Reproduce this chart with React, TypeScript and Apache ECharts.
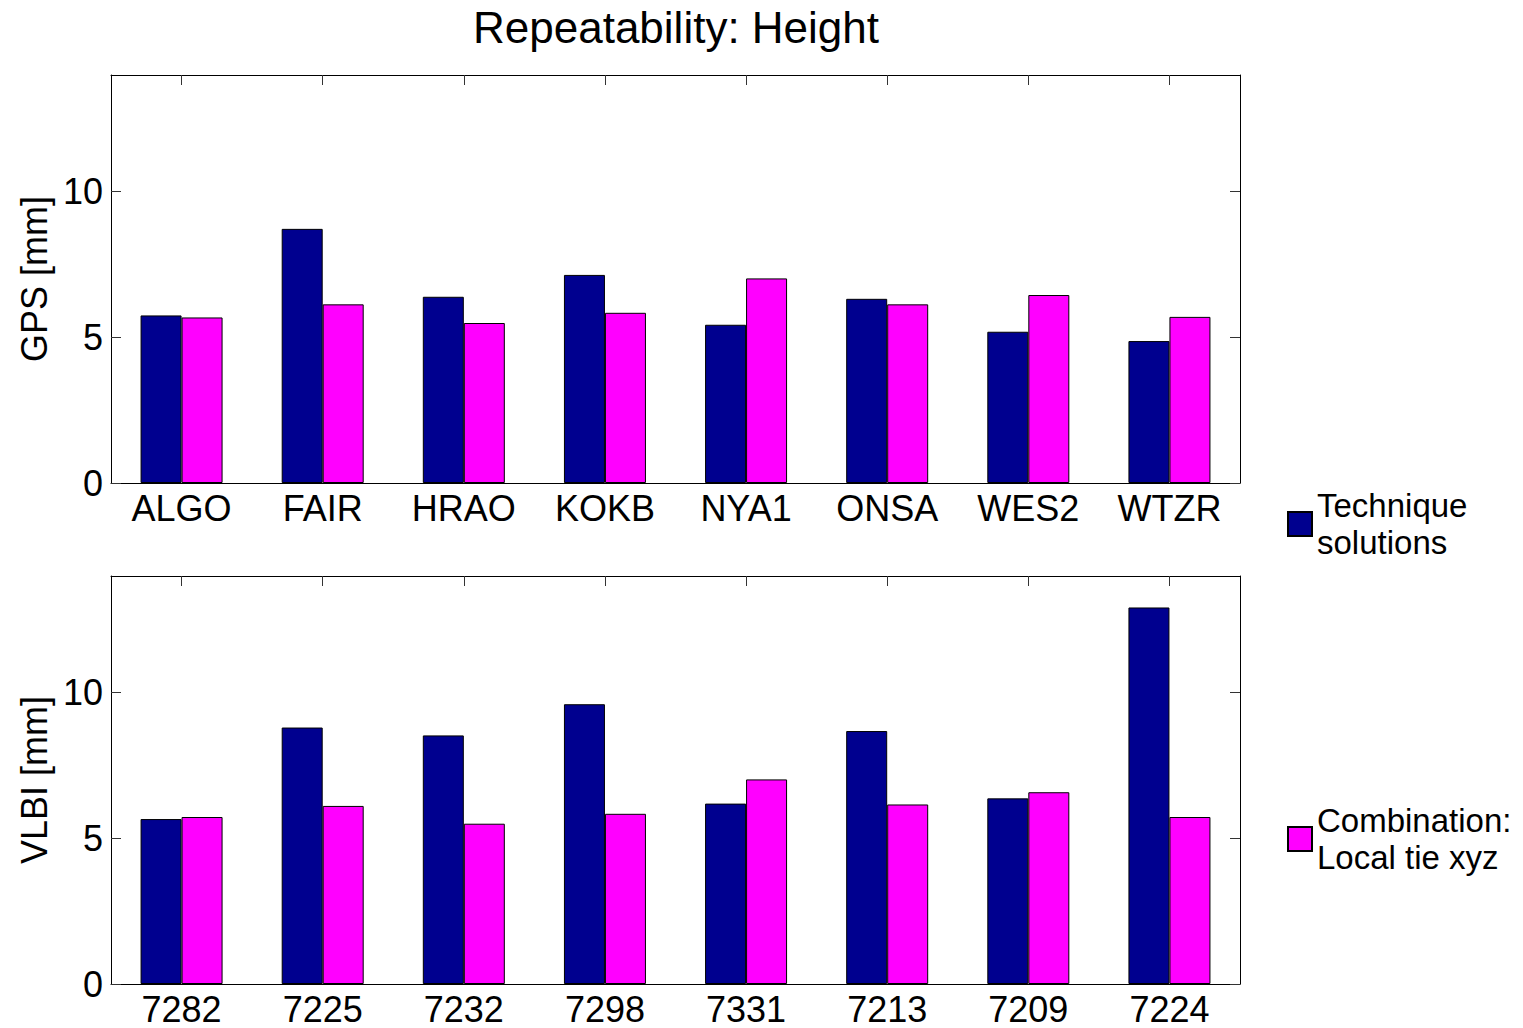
import React, { useEffect, useRef } from "react";
import * as echarts from "echarts";

const gpsStations = ["ALGO", "FAIR", "HRAO", "KOKB", "NYA1", "ONSA", "WES2", "WTZR"];
const gpsTechnique = [5.75, 8.72, 6.39, 7.14, 5.43, 6.32, 5.19, 4.87];
const gpsCombination = [5.68, 6.13, 5.49, 5.84, 7.02, 6.13, 6.45, 5.7];

const vlbiStations = ["7282", "7225", "7232", "7298", "7331", "7213", "7209", "7224"];
const vlbiTechnique = [5.66, 8.8, 8.53, 9.6, 6.19, 8.68, 6.37, 12.92];
const vlbiCombination = [5.73, 6.11, 5.5, 5.84, 7.02, 6.16, 6.58, 5.73];

const yTicks = [0, 5, 10];
const seriesNames = ["Technique solutions", "Combination: Local tie xyz"];
const legendLabels = ["Technique\nsolutions", "Combination:\nLocal tie xyz"];
const titleText = "Repeatability: Height";
const yNames = ["GPS [mm]", "VLBI [mm]"];

const FONT = "'Liberation Sans', Arial, Helvetica, sans-serif";
const BLUE = "#00008F";
const MAGENTA = "#FF00FF";

export default function App() {
  const ref = useRef<HTMLDivElement>(null);
  useEffect(() => {
    if (!ref.current) return;
    const chart = echarts.init(ref.current, undefined, { renderer: "svg" });
    const axisLine = { show: true, onZero: false, lineStyle: { color: "#000", width: 1 } };
    const grids = [
      { left: 111, top: 75, width: 1129, height: 408 },
      { left: 111, top: 576, width: 1129, height: 408 },
    ];
    const cats = [gpsStations, vlbiStations];
    const xAxes: any[] = [];
    const yAxes: any[] = [];
    [0, 1].forEach((g) => {
      xAxes.push({
        gridIndex: g,
        type: "category",
        position: "bottom",
        data: cats[g],
        boundaryGap: true,
        axisLine,
        axisTick: { show: false },
        axisLabel: { color: "#000", fontSize: 36, fontFamily: FONT, margin: 7 },
        splitLine: { show: false },
      });
      xAxes.push({
        gridIndex: g,
        type: "category",
        position: "top",
        data: cats[g],
        boundaryGap: true,
        axisLine,
        axisTick: { show: true, inside: true, length: 10, alignWithLabel: true, lineStyle: { color: "#333" } },
        axisLabel: { show: false },
        splitLine: { show: false },
      });
      yAxes.push({
        gridIndex: g,
        type: "value",
        position: "left",
        min: 0,
        max: 14,
        name: yNames[g],
        nameLocation: "middle",
        nameGap: 56,
        nameTextStyle: { color: "#000", fontSize: 36, fontFamily: FONT },
        axisLine,
        axisTick: { show: true, inside: true, length: 10, customValues: yTicks, lineStyle: { color: "#333" } },
        axisLabel: { color: "#000", fontSize: 36, fontFamily: FONT, margin: 8, customValues: yTicks },
        splitLine: { show: false },
      });
      yAxes.push({
        gridIndex: g,
        type: "value",
        position: "right",
        min: 0,
        max: 14,
        axisLine,
        axisTick: { show: true, inside: true, length: 10, customValues: yTicks, lineStyle: { color: "#333" } },
        axisLabel: { show: false },
        splitLine: { show: false },
      });
    });

    const barBase = { type: "bar", barWidth: 41, barGap: "0%" };
    const series = [
      { ...barBase, name: seriesNames[0], xAxisIndex: 0, yAxisIndex: 0, data: gpsTechnique, itemStyle: { color: BLUE, borderColor: "#000", borderWidth: 1 } },
      { ...barBase, name: seriesNames[1], xAxisIndex: 0, yAxisIndex: 0, data: gpsCombination, itemStyle: { color: MAGENTA, borderColor: "#000", borderWidth: 1 } },
      { ...barBase, name: seriesNames[0], xAxisIndex: 2, yAxisIndex: 2, data: vlbiTechnique, itemStyle: { color: BLUE, borderColor: "#000", borderWidth: 1 } },
      { ...barBase, name: seriesNames[1], xAxisIndex: 2, yAxisIndex: 2, data: vlbiCombination, itemStyle: { color: MAGENTA, borderColor: "#000", borderWidth: 1 } },
    ];

    const legendBase = {
      orient: "vertical",
      left: 1287,
      padding: 0,
      icon: "rect",
      itemWidth: 24,
      itemHeight: 24,
      selectedMode: false,
    };

    chart.setOption({
      animation: false,
      backgroundColor: "#fff",
      grid: grids.map((g) => ({ ...g, containLabel: false, outerBoundsMode: "none" })),
      xAxis: xAxes,
      yAxis: yAxes,
      series,
      legend: [
        {
          ...legendBase,
          top: 487,
          data: [seriesNames[0]],
          formatter: () => legendLabels[0],
          textStyle: { color: "#000", fontSize: 33, lineHeight: 37, fontFamily: FONT },
        },
        {
          ...legendBase,
          top: 787,
          data: [seriesNames[1]],
          formatter: () => legendLabels[1],
          textStyle: { color: "#000", fontSize: 33, lineHeight: 37, fontFamily: FONT, padding: [0, 0, 30, 0] },
        },
      ],
      graphic: [
        {
          type: "text",
          x: 676,
          y: 5,
          style: {
            text: titleText,
            fill: "#000",
            font: `44px ${FONT}`,
            align: "center",
            verticalAlign: "top",
          },
        },
      ],
    });
    return () => chart.dispose();
  }, []);
  return (
    <div
      ref={ref}
      style={{ position: "fixed", left: 0, top: 0, width: 1523, height: 1028, background: "#fff" }}
    />
  );
}
